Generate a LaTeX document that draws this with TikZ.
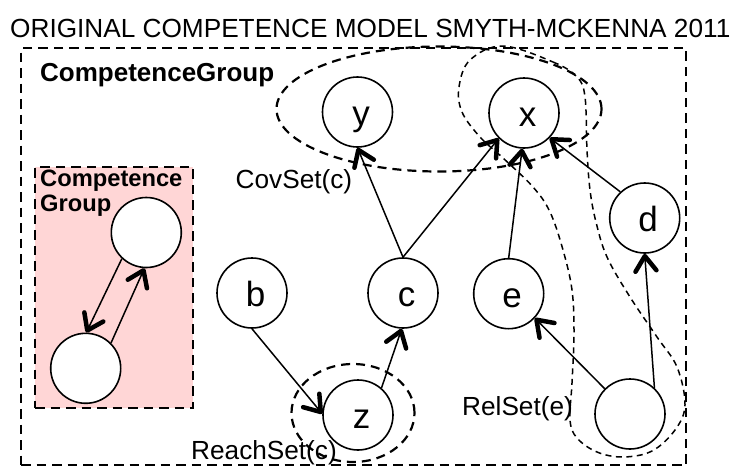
\documentclass[tikz,border=0pt]{standalone}
\usepackage{fontspec}
\setmainfont{Liberation Sans}
\usetikzlibrary{arrows.meta}
\definecolor{groupfill}{HTML}{FFD6D6}
\begin{document}
\begin{tikzpicture}[x=1pt,y=-1pt,
  state/.style={circle, draw, line width=1.6pt, fill=white, minimum size=70pt,
    inner sep=0pt, font=\fontsize{35pt}{35pt}\selectfont,
    text height=31pt, text depth=4pt},
  link/.style={line width=1.5pt,
    -{Straight Barb[length=15pt,width=21pt,line width=4.5pt,round]}},
  frame/.style={line width=2.3pt, dash pattern=on 9.5pt off 6pt},
  setline/.style={line width=2.2pt, dash pattern=on 9pt off 6pt},
  thinset/.style={line width=1.5pt, dash pattern=on 6pt off 4.5pt},
  lbl/.style={anchor=base west, inner sep=0pt,
    font=\fontsize{26.2pt}{30pt}\selectfont},
  grouplbl/.style={anchor=base west, inner sep=0pt,
    font=\fontsize{23.7pt}{26pt}\selectfont\bfseries},
]
\useasboundingbox (0,0) rectangle (736,469);

% heading
\node[lbl] (title) at (10,37) {ORIGINAL COMPETENCE MODEL SMYTH-MCKENNA 2011};

% outer competence group
\node[draw, frame, minimum width=665pt, minimum height=417pt, inner sep=0pt]
  (outer) at (353.5,256.5) {};
\node[lbl, font=\fontsize{26pt}{30pt}\selectfont\bfseries] (outerlbl) at (40,81) {CompetenceGroup};

% nested competence group
\node[draw, frame, fill=groupfill, minimum width=158pt, minimum height=241pt, inner sep=0pt]
  (inner) at (114,287.5) {};
\node[grouplbl] (innerlbl1) at (40,186) {Competence};
\node[grouplbl] (innerlbl2) at (40,211) {Group};

% covering set around y and x
\draw[setline] (439,109) ellipse [x radius=162.5pt, y radius=62.5pt];
\node[lbl] (covlbl) at (235.5,188) {CovSet(c)};

% reachability set around z
\draw[setline] (353,413) ellipse [x radius=61.5pt, y radius=49pt];
\node[lbl] (reachlbl) at (191,459) {ReachSet(c)};

% relative set loop
\draw[thinset] plot[smooth cycle, tension=0.6] coordinates {
  (503,46) (553,62) (577,77) (585,97) (587,150) (590,190) (596,222)
  (607,257) (630,297) (657,337) (677,367) (685,405) (675,430) (652,451)
  (623,457) (597,452) (577,438) (570,420) (572,383) (574,333) (572,290)
  (563,250) (550,212) (533,187) (503,158) (480,137) (462,112) (459,87)
  (470,60)};
\node[lbl] (rellbl) at (462,415) {RelSet(e)};

% competences
\node[state] (y) at (357.5,112) {\hspace*{7pt}y};
\node[state] (x) at (524,113) {\hspace*{7pt}x};
\node[state] (b) at (252,293) {\hspace*{7pt}b};
\node[state] (c) at (403,293) {\hspace*{7pt}c};
\node[state] (e) at (508.7,293.7) {\hspace*{7pt}e};
\node[state] (d) at (644.7,218) {\hspace*{7pt}d};
\node[state] (z) at (358,415) {\hspace*{7pt}z};
\node[state] (w) at (630,414) {};
\node[state] (g1) at (146.3,232.5) {};
\node[state] (g2) at (85.7,368.3) {};

% dependencies
\draw[link] (g1.227) -- (g2.89);
\draw[link] (g2.45) -- (g1.267);
\draw[link] (b.270) -- (z.178);
\draw[link] (z.49) -- (c.268);
\draw[link] (c.90) -- (y.270);
\draw[link] (c.90) -- (x.225);
\draw[link] (e.90) -- (x.267);
\draw[link] (d.133) -- (x.316);
\draw[link] (w.135) -- (e.317);
\draw[link] (w.47) -- (d.270);
\end{tikzpicture}
\end{document}
